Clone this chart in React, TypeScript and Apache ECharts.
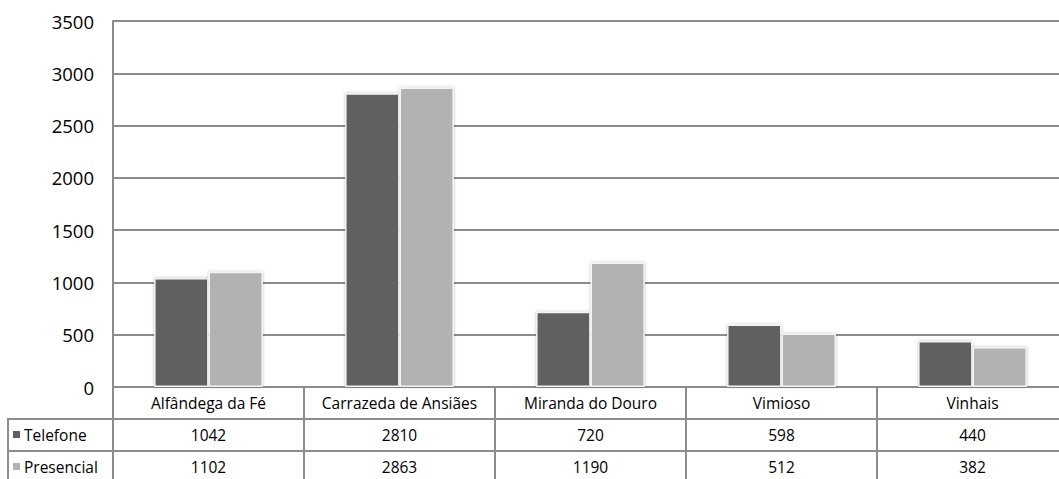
import React, { useEffect, useRef } from "react";
import * as echarts from "echarts";

const categories = ["Alfândega da Fé", "Carrazeda de Ansiães", "Miranda do Douro", "Vimioso", "Vinhais"];
const seriesNames = ["Telefone", "Presencial"];
const telefone = [1042, 2810, 720, 598, 440];
const presencial = [1102, 2863, 1190, 512, 382];
const colors = ["#606060", "#b2b2b2"];

const FONT = "Open Sans";
const LINE = "#8c8c8c";

export default function App() {
  const ref = useRef<HTMLDivElement>(null);
  useEffect(() => {
    if (!ref.current) return;
    const chart = echarts.init(ref.current, null, { renderer: "svg" });
    const rowData = [telefone, presencial];
    const tableAxis = (i: number) => ({
      type: "category",
      data: categories,
      gridIndex: 0,
      position: "bottom",
      offset: 32 * (i + 1),
      axisLine: { show: true, onZero: false, lineStyle: { color: LINE, width: 2 } },
      axisTick: { show: false },
      axisLabel: {
        interval: 0,
        margin: 8,
        fontFamily: FONT,
        fontSize: 15.5,
        color: "#000",
        formatter: (_v: string, idx: number) => String(rowData[i][idx]),
      },
      splitLine: { show: false },
    });
    chart.setOption({
      animation: false,
      backgroundColor: "#fff",
      grid: { left: 113, top: 21, width: 955, height: 366, containLabel: false },
      xAxis: [
        {
          type: "category",
          data: categories,
          position: "bottom",
          axisLine: { show: true, onZero: false, lineStyle: { color: LINE, width: 2 } },
          axisTick: { show: true, interval: 0, length: 92, lineStyle: { color: LINE, width: 2 } },
          axisLabel: { interval: 0, margin: 8, fontFamily: FONT, fontSize: 15.5, color: "#000" },
          splitLine: { show: false },
        },
        tableAxis(0),
        tableAxis(1),
      ],
      yAxis: {
        type: "value",
        min: 0,
        max: 3500,
        interval: 500,
        axisLine: { show: true, lineStyle: { color: LINE, width: 2 } },
        axisTick: { show: false },
        axisLabel: {
          margin: 19,
          fontFamily: FONT,
          fontSize: 18.5,
          color: "#000",
          formatter: (v: number) => String(v),
        },
        splitLine: { show: true, lineStyle: { color: LINE, width: 2 } },
      },
      series: [
        {
          name: seriesNames[0],
          type: "bar",
          xAxisIndex: 0,
          data: telefone,
          barCategoryGap: "43%",
          barGap: "0%",
          itemStyle: {
            color: colors[0],
            borderColor: "#f4f4f4",
            borderWidth: 1.5,
            shadowColor: "rgba(0,0,0,0.25)",
            shadowBlur: 3,
          },
        },
        {
          name: seriesNames[1],
          type: "bar",
          xAxisIndex: 0,
          data: presencial,
          barCategoryGap: "43%",
          barGap: "0%",
          itemStyle: {
            color: colors[1],
            borderColor: "#f4f4f4",
            borderWidth: 1.5,
            shadowColor: "rgba(0,0,0,0.25)",
            shadowBlur: 3,
          },
        },
      ],
      graphic: [
        { type: "line", shape: { x1: 8, y1: 419, x2: 113, y2: 419 }, style: { stroke: LINE, lineWidth: 2 } },
        { type: "line", shape: { x1: 8, y1: 451, x2: 113, y2: 451 }, style: { stroke: LINE, lineWidth: 2 } },
        { type: "line", shape: { x1: 8, y1: 418, x2: 8, y2: 479 }, style: { stroke: LINE, lineWidth: 2 } },
        ...seriesNames.flatMap((name, i) => [
          { type: "rect", shape: { x: 13, y: 431 + 32 * i, width: 7, height: 7 }, style: { fill: colors[i] } },
          {
            type: "text",
            x: 24,
            y: 435 + 32 * i,
            style: { text: name, fontFamily: FONT, fontSize: 15.5, fill: "#000", verticalAlign: "middle", align: "left" },
          },
        ]),
      ],
    });
    return () => chart.dispose();
  }, []);
  return (
    <div style={{ position: "fixed", left: 0, top: 0, width: 1059, height: 479, overflow: "hidden", background: "#fff" }}>
      <div ref={ref} style={{ width: 1080, height: 479 }} />
    </div>
  );
}
